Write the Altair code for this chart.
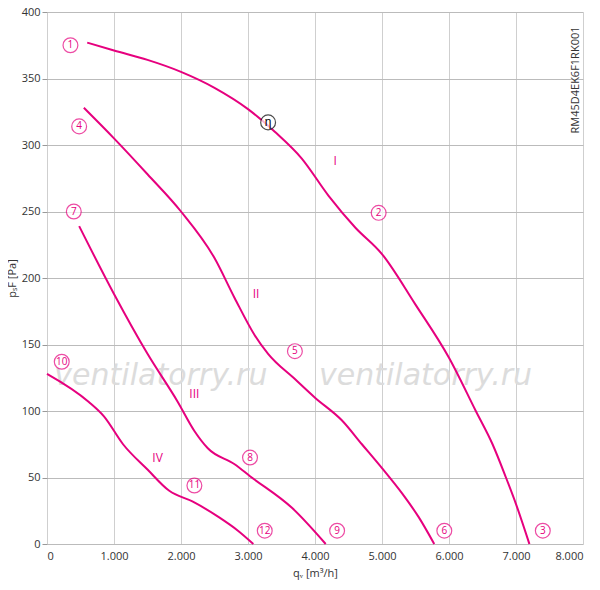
import altair as alt
import pandas as pd

MAGENTA = "#e6007e"

# fan curves: (q_V [m3/h], p_sF [Pa])
curve_I = [(600, 377), (1000, 371), (1500, 364), (2000, 355), (2500, 343), (3000, 327),
           (3400, 310), (3800, 290), (4200, 262), (4600, 238), (5000, 218), (5500, 180),
           (6000, 140), (6400, 100), (6650, 75), (6850, 50), (7000, 30), (7200, 0)]
curve_II = [(550, 328), (1000, 305), (1500, 278), (2000, 250), (2500, 215), (2800, 185),
            (3100, 157), (3300, 143), (3700, 124), (4000, 110), (4400, 93), (4700, 75),
            (5000, 57), (5300, 38), (5550, 20), (5780, 0)]
curve_III = [(480, 239), (1000, 188), (1500, 143), (1950, 107), (2200, 85), (2400, 72),
             (2800, 60), (3030, 51), (3660, 27), (4160, 0)]
curve_IV = [(0, 128), (620, 107), (850, 96), (1135, 75), (1500, 56), (1825, 40),
            (2170, 32), (2570, 20), (2850, 10), (3080, 0)]

circle_labels = ["1", "4", "7", "10", "2", "5", "8", "11", "3", "6", "9", "12"]
circle_x = [350, 480, 400, 220, 4950, 3700, 3030, 2200, 7400, 5930, 4330, 3250]
circle_y = [375, 314, 250, 137, 249, 145, 65, 44, 10, 10, 10, 10]

roman_labels = ["I", "II", "III", "IV"]
roman_x = [4300, 3120, 2200, 1650]
roman_y = [288, 188, 113, 65]

rows = []
for name, pts in [("I", curve_I), ("II", curve_II), ("III", curve_III), ("IV", curve_IV)]:
    for i, (q, p) in enumerate(pts):
        rows.append({"curve": name, "q": q, "p": p, "i": i})
curves = pd.DataFrame(rows)
circles = pd.DataFrame({"label": circle_labels, "q": circle_x, "p": circle_y})
romans = pd.DataFrame({"label": roman_labels, "q": roman_x, "p": roman_y})
eta = pd.DataFrame({"label": ["η"], "q": [3300], "p": [317]})
marks = pd.DataFrame({"label": ["ventilatorry.ru", "ventilatorry.ru"], "q": [1700, 5650], "p": [126, 126]})

x_scale = alt.Scale(domain=[0, 8000], nice=False)
y_scale = alt.Scale(domain=[0, 400], nice=False)

x_axis = alt.Axis(
    values=list(range(0, 8001, 500)),
    labelExpr="datum.value == 0 ? '0' : (datum.value % 1000 == 0 ? format(datum.value / 1000, 'd') + '.000' : '')",
    title="qᵥ [m³/h]", titleFontWeight="normal", titleFontSize=11, titleColor="#333",
    labelColor="#333", labelFontSize=11, ticks=False, domain=False,
    gridColor="#cfcfcf", labelPadding=6, titlePadding=6,
)
y_axis = alt.Axis(
    values=list(range(0, 401, 25)),
    labelExpr="datum.value % 50 == 0 ? datum.value : ''",
    title="pₛF [Pa]", titleFontWeight="normal", titleFontSize=11, titleColor="#333",
    labelColor="#333", labelFontSize=11, ticks=True, tickColor="#999", tickSize=5,
    domain=False, gridColor="#bbbbbb", labelPadding=2, titlePadding=4,
)

X = alt.X("q:Q", scale=x_scale, axis=x_axis)
Y = alt.Y("p:Q", scale=y_scale, axis=y_axis)
Xn = alt.X("q:Q", scale=x_scale)
Yn = alt.Y("p:Q", scale=y_scale)

watermark = alt.Chart(marks).mark_text(fontSize=30, color="#dcdcdc", font="DejaVu Sans", fontStyle="italic").encode(
    x=Xn, y=Yn, text="label:N")

lines = alt.Chart(curves).mark_line(color=MAGENTA, strokeWidth=2, interpolate="monotone").encode(
    x=X, y=Y, detail="curve:N", order="i:Q")

rings = alt.Chart(circles).mark_point(shape="circle", size=220, color=MAGENTA, fill="white",
                                      filled=False, strokeWidth=1.2).encode(x=Xn, y=Yn)
ring_text = alt.Chart(circles).mark_text(color=MAGENTA, fontSize=10, font="Open Sans").encode(
    x=Xn, y=Yn, text="label:N")
roman_text = alt.Chart(romans).mark_text(color=MAGENTA, fontSize=12, font="Open Sans").encode(
    x=Xn, y=Yn, text="label:N")
eta_ring = alt.Chart(eta).mark_point(shape="circle", size=220, color="black", fill="white",
                                     filled=False, strokeWidth=1.2).encode(x=Xn, y=Yn)
eta_text = alt.Chart(eta).mark_text(color="black", fontSize=12).encode(x=Xn, y=Yn, text="label:N")
code = alt.Chart(pd.DataFrame({"t": ["RM45D4EK6F1RK001"]})).mark_text(
    angle=270, fontSize=11, color="#333", font="Open Sans").encode(
    x=alt.value(529), y=alt.value(68), text="t:N")

chart = (
    alt.layer(watermark, lines, rings, ring_text, roman_text, eta_ring, eta_text, code)
    .properties(width=536, height=532, padding={"left": 39, "top": 4, "right": 4, "bottom": 40},
                autosize=alt.AutoSizeParams(type="none"))
    .configure_view(stroke=None)
    .configure_axis(labelFont="Open Sans", titleFont="Open Sans")
)

chart.save("out.html", embed_options={"renderer": "svg", "actions": False})
